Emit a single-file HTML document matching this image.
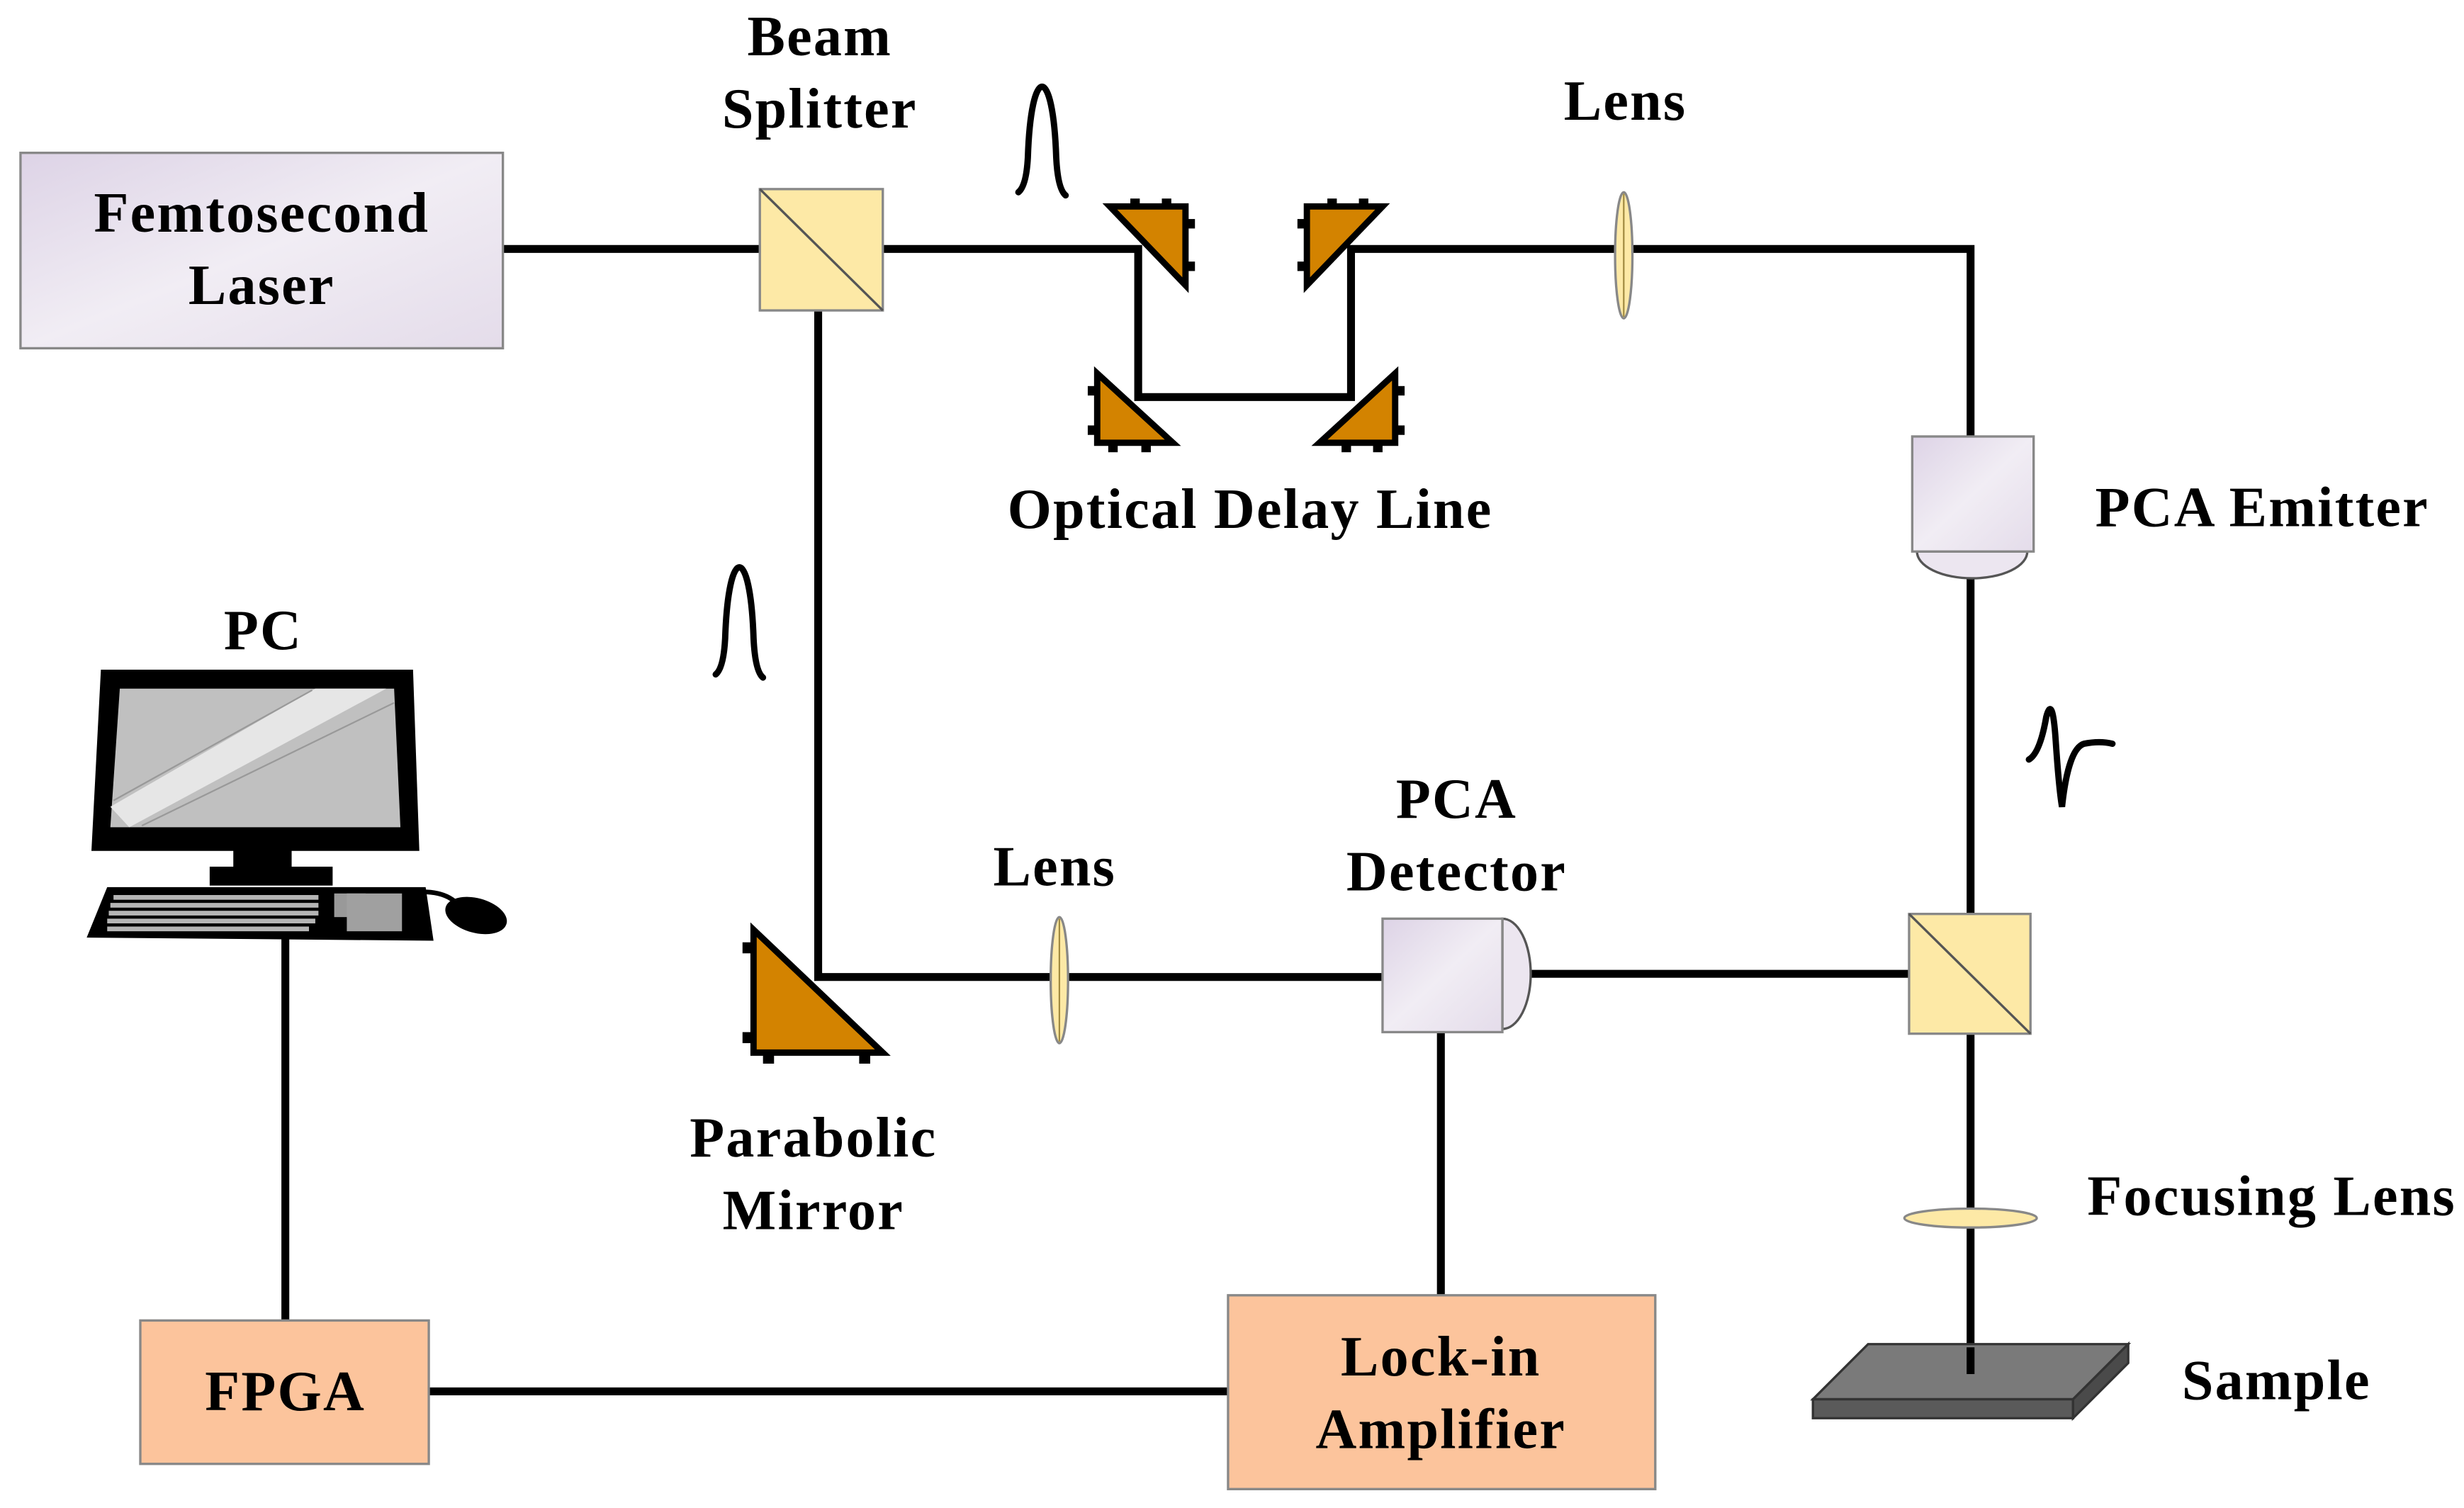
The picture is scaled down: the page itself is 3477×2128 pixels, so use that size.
<!DOCTYPE html>
<html><head><meta charset="utf-8"><style>
html,body{margin:0;padding:0;background:#fff;}
svg{display:block;}
text{font-family:"Liberation Serif",serif;font-weight:bold;font-size:36px;letter-spacing:1px;fill:#000;text-anchor:middle;}
</style></head><body>
<svg width="3477" height="2128" viewBox="0 0 1563 957" preserveAspectRatio="none" xmlns="http://www.w3.org/2000/svg">
<defs>
<linearGradient id="lav" x1="0" y1="0" x2="1" y2="1">
<stop offset="0" stop-color="#ddd3e6"/><stop offset="0.5" stop-color="#f1edf4"/><stop offset="1" stop-color="#e4dcea"/></linearGradient>
</defs>
<g stroke="#000" stroke-width="5" fill="none">
<path d="M319,158 H722 V252 H857 V158 H1250 V870"/>
<path d="M519,158 V620 H877"/>
<path d="M953,618 H1250"/>
<path d="M914,655 V822"/>
<path d="M272,883 H779"/>
<path d="M181,595 V838"/>
</g>
<rect x="13" y="97" width="306" height="124" fill="url(#lav)" stroke="#888" stroke-width="1.5"/>
<text x="166" y="147">Femtosecond</text><text x="166" y="193">Laser</text>
<rect x="482" y="120" width="78" height="77" fill="#fde9a6" stroke="#888" stroke-width="1.5"/>
<line x1="482" y1="120" x2="560" y2="197" stroke="#555" stroke-width="1.5"/>
<rect x="1211" y="580" width="77" height="76" fill="#fde9a6" stroke="#888" stroke-width="1.5"/>
<line x1="1211" y1="580" x2="1288" y2="656" stroke="#555" stroke-width="1.5"/>
<g fill="#d38300" stroke="#000" stroke-width="4" stroke-linejoin="miter">
<polygon points="704,131 752,131 752,181"/>
<polygon points="829,131 877,131 829,181"/>
<polygon points="696,237 696,281 744,281"/>
<polygon points="885,237 885,281 837,281"/>
<polygon points="478,590 478,668 560,668"/>
</g>
<g fill="#000">
<rect x="717" y="126" width="6" height="6"/><rect x="737" y="126" width="6" height="6"/><rect x="752" y="139" width="6" height="6"/><rect x="752" y="166" width="6" height="6"/>
<rect x="842" y="126" width="6" height="6"/><rect x="862" y="126" width="6" height="6"/><rect x="823" y="139" width="6" height="6"/><rect x="823" y="166" width="6" height="6"/>
<rect x="690" y="245" width="6" height="6"/><rect x="690" y="270" width="6" height="6"/><rect x="703" y="281" width="6" height="6"/><rect x="724" y="281" width="6" height="6"/>
<rect x="885" y="245" width="6" height="6"/><rect x="885" y="270" width="6" height="6"/><rect x="851" y="281" width="6" height="6"/><rect x="871" y="281" width="6" height="6"/>
<rect x="471" y="598" width="7" height="7"/><rect x="471" y="655" width="7" height="7"/><rect x="484" y="668" width="7" height="7"/><rect x="545" y="668" width="7" height="7"/>
</g>
<ellipse cx="1030" cy="162" rx="5.5" ry="40" fill="#fde9a6" stroke="#888" stroke-width="1.5"/>
<ellipse cx="672" cy="622" rx="5.5" ry="40" fill="#fde9a6" stroke="#888" stroke-width="1.5"/>
<ellipse cx="1250" cy="773" rx="42" ry="6" fill="#fde9a6" stroke="#888" stroke-width="1.5"/>
<line x1="1030" y1="123" x2="1030" y2="201" stroke="#a08a40" stroke-width="1"/>
<line x1="672" y1="583" x2="672" y2="661" stroke="#a08a40" stroke-width="1"/>
<path d="M1216,350 A35,17 0 0 0 1286,350 Z" fill="#ece6f0" stroke="#555" stroke-width="1.5"/>
<rect x="1213" y="277" width="77" height="73" fill="url(#lav)" stroke="#888" stroke-width="1.5"/>
<path d="M953,583 A18,35 0 0 1 953,653 Z" fill="#ece6f0" stroke="#555" stroke-width="1.5"/>
<rect x="877" y="583" width="76" height="72" fill="url(#lav)" stroke="#888" stroke-width="1.5"/>
<polygon points="1150,888 1185,853 1350,853 1315,888" fill="#7a7a7a" stroke="#333" stroke-width="1.5"/>
<polygon points="1150,888 1315,888 1315,900 1150,900" fill="#5a5a5a" stroke="#333" stroke-width="1.5"/>
<polygon points="1315,888 1350,853 1350,865 1315,900" fill="#4a4a4a" stroke="#333" stroke-width="1.5"/>
<line x1="1250" y1="855" x2="1250" y2="872" stroke="#000" stroke-width="5"/>
<rect x="779" y="822" width="271" height="123" fill="#fcc49c" stroke="#888" stroke-width="1.5"/>
<text x="914" y="873">Lock-in</text><text x="914" y="919">Amplifier</text>
<rect x="89" y="838" width="183" height="91" fill="#fcc49c" stroke="#888" stroke-width="1.5"/>
<text x="181" y="895">FPGA</text>
<polygon points="64,425 262,425 266,540 58,540" fill="#000"/>
<polygon points="76,437 250,437 254,525 70,525" fill="#c0c0c0"/>
<polygon points="70,512 200,437 245,437 82,525" fill="#e6e6e6"/>
<line x1="72" y1="508" x2="198" y2="438" stroke="#999" stroke-width="1"/>
<line x1="90" y1="524" x2="250" y2="446" stroke="#999" stroke-width="1"/>
<rect x="148" y="538" width="37" height="14" fill="#000"/>
<rect x="133" y="550" width="78" height="12" fill="#000"/>
<polygon points="68,563 270,563 275,597 55,595" fill="#000"/>
<g fill="#b5b5b5"><rect x="72" y="568" width="130" height="3"/><rect x="70" y="573" width="132" height="3"/><rect x="69" y="578" width="133" height="3"/><rect x="68" y="583" width="132" height="3"/><rect x="68" y="588" width="128" height="3"/><rect x="212" y="567" width="20" height="15" fill="#999"/><rect x="220" y="567" width="35" height="24" fill="#a0a0a0"/></g>
<path d="M268,566 Q285,566 292,576" stroke="#000" stroke-width="3" fill="none"/>
<ellipse cx="302" cy="581" rx="20" ry="11" fill="#000" transform="rotate(15 302 581)"/>
<g stroke="#000" stroke-width="4" fill="none" stroke-linecap="round">
<path d="M646,122 Q651,118 652,100 C654,40 668,40 670,100 Q671,120 676,124"/>
<path d="M454,428 Q459,424 460,405 C462,345 476,345 478,405 Q479,426 484,430"/>
<path d="M1287,482 Q1294,478 1298,455 Q1302,440 1304,470 Q1306,500 1308,512 Q1312,475 1322,472 Q1332,470 1340,472"/>
</g>
<text x="520" y="35">Beam</text><text x="520" y="81">Splitter</text>
<text x="1031" y="76">Lens</text>
<text x="793" y="335">Optical Delay Line</text>
<text x="1435" y="334">PCA Emitter</text>
<text x="167" y="412">PC</text>
<text x="924" y="519">PCA</text><text x="924" y="565">Detector</text>
<text x="669" y="562">Lens</text>
<text x="516" y="734">Parabolic</text><text x="516" y="780">Mirror</text>
<text x="1441" y="771">Focusing Lens</text>
<text x="1444" y="888">Sample</text>
</svg>
</body></html>
